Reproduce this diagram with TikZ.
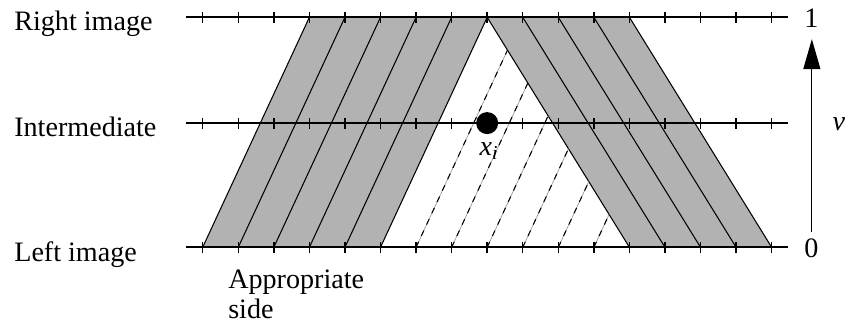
\documentclass[tikz,border=0pt]{standalone}
\usepackage{fontspec}
\setmainfont{Liberation Serif}
\usepackage{tikz}
\usetikzlibrary{arrows.meta}

\tikzset{
 band/.style={fill=black!30},
 edge/.style={line width=0.6pt},
 axis/.style={line width=1.1pt},
 tick/.style={line width=0.8pt},
 match/.style={black,line width=0.6pt,dash pattern=on 1.2mm off 1.3mm},
 every node/.style={font=\fontsize{16}{16}\selectfont,inner sep=0pt}
}

\begin{document}
\begin{tikzpicture}[x=7.112mm,y=46mm,>={Triangle[length=6mm,width=3.4mm]}]
 \useasboundingbox (-5.7,-0.342) rectangle (18.203,1.0752);
 \fill[band] (0,0)--(5,0)--(8,1)--(3,1)--cycle;
 \fill[band] (8,1)--(12,1)--(16,0)--(12,0)--cycle;
 \foreach \k in {0,...,5} \draw[edge] (\k,0)--(\k+3,1);
 \foreach \k in {8,...,12} \draw[edge] (\k,1)--(\k+4,0);
 \foreach \k in {6,...,11} {
  \draw[black!40,line width=0.4pt] (\k,0)--({\k+3*(12-\k)/7},{(12-\k)/7});
  \draw[match] (\k,0)--({\k+3*(12-\k)/7},{(12-\k)/7});
 }
 \foreach \y in {0,0.54,1} {
  \draw[axis] (-0.47,\y)--(16.46,\y);
  \foreach \k in {0,...,16} \draw[tick] (\k,\y) ++(0,-1.1mm) -- ++(0,2.2mm);
 }
 \node[circle,fill,minimum size=4.4mm] (xi) at (8,0.54) {};
 \node (xilab) at (8.05,0.419) {\textit{x}\textsubscript{\textit{i}}};
 \node[anchor=base west] (rightimg) at (-5.307,0.942) {Right image};
 \node[anchor=base west] (interm) at (-5.307,0.481) {Intermediate};
 \node[anchor=base west] (leftimg) at (-5.307,-0.063) {Left image};
 \node[anchor=north west,align=left,font=\fontsize{16}{17.5}\selectfont] (side) at (0.71,-0.095) {Appropriate\\side};
 \node (one) at (17.12,0.996) {1};
 \node (zero) at (17.12,-0.003) {0};
 \node (vlab) at (17.89,0.536) {\textit{v}};
 \coordinate (vlo) at (17.13,0.068);
 \coordinate (vhi) at (17.13,0.905);
 \draw[->,line width=0.6pt] (vlo)--(vhi);
\end{tikzpicture}
\end{document}
